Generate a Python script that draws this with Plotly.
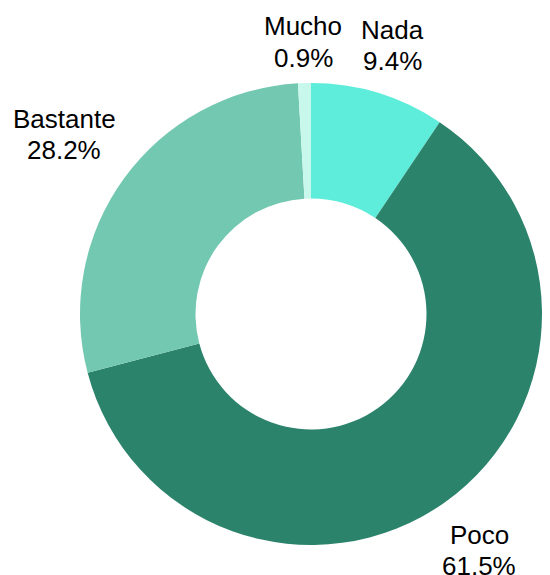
import math
import plotly.graph_objects as go

labels = ["Nada", "Poco", "Bastante", "Mucho"]
values = [9.4, 61.5, 28.2, 0.9]
colors = ["#5eecdb", "#2c836c", "#72c8b0", "#c8f8ec"]

W, H = 550, 575
OFF = 8                             # default page margin around the figure
CX, CY, R = 311 - OFF, 314 - OFF, 231   # pie centre and radius in pixels
FONT = 26
PITCH = 31.2                        # line pitch of the two-line labels
LABEL_R = 249                       # radius where the label box corner sits
FAM = "Liberation Sans, Arial, sans-serif"

fig = go.Figure(go.Pie(
    labels=labels,
    values=values,
    hole=0.5,
    sort=False,
    direction="clockwise",
    rotation=0,
    marker=dict(colors=colors, line=dict(width=0)),
    textinfo="none",
    domain=dict(x=[(CX - R) / W, (CX + R) / W], y=[1 - (CY + R) / H, 1 - (CY - R) / H]),
    showlegend=False,
    hoverinfo="label+percent",
))

# Arial / Liberation Sans advance widths (per em)
CW = {" ": .278, "%": .889, ".": .278, "B": .667, "M": .833, "N": .722, "P": .667,
      "a": .556, "c": .5, "d": .556, "e": .556, "h": .556, "n": .556, "o": .556,
      "s": .5, "t": .278, "u": .556}


def text_w(s):
    return sum(CW.get(ch, .556) for ch in s) * FONT


total = sum(values)
cum = 0.0
annotations = []
for lab, v in zip(labels, values):
    mid = (cum + v / 2) / total * 2 * math.pi
    cum += v
    pct = f"{v / total * 100:.1f}%"
    ux, uy = math.sin(mid), -math.cos(mid)          # screen coords, y down
    w = max(text_w(lab), text_w(pct))
    h = FONT * 0.716 + PITCH
    sx = math.copysign(w / 2, ux)
    sy = math.copysign(h / 2, uy)
    us = ux * sx + uy * sy
    t = us + math.sqrt(us * us - (sx * sx + sy * sy) + LABEL_R ** 2)
    px, py = CX + t * ux, CY + t * uy
    for txt, dy in ((lab, -PITCH / 2), (pct, PITCH / 2)):
        annotations.append(dict(
            x=px / W, y=1 - (py + dy) / H, xref="paper", yref="paper",
            text=txt, showarrow=False, xanchor="center", yanchor="middle",
            font=dict(family=FAM, size=FONT, color="#000000"),
        ))

fig.update_layout(
    width=W, height=H,
    margin=dict(l=0, r=0, t=0, b=0),
    paper_bgcolor="white",
    plot_bgcolor="white",
    annotations=annotations,
)
fig.write_html("out.html")
